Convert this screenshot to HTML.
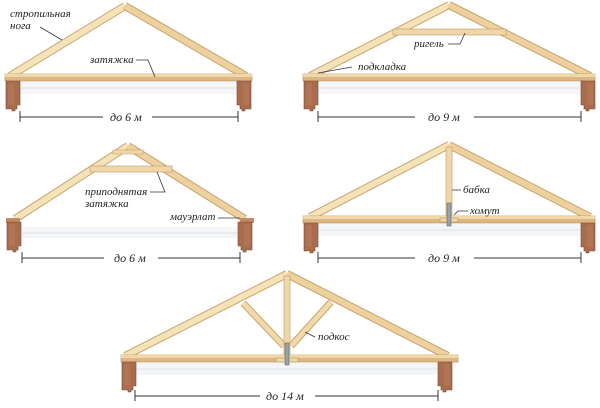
<!DOCTYPE html>
<html><head><meta charset="utf-8"><style>
html,body{margin:0;padding:0;background:#fff}
svg{display:block}
text{font-family:"Liberation Serif","DejaVu Serif",serif;font-style:italic;font-size:11px;fill:#222}
.dim{font-size:12px}
</style></head><body>
<svg width="600" height="408" viewBox="0 0 600 408" xmlns="http://www.w3.org/2000/svg">
<defs>
<g id="wallL">
<path d="M0 0 H14 V24 H11 V28 H9 V30 H6 V28 H0 Z" fill="#a96d4e" stroke="#7a4a33" stroke-width="0.6"/>
<rect x="2" y="2" width="6" height="22" fill="#b87b5a" opacity="0.6"/>
</g>
<g id="wallR">
<path d="M14 0 H0 V24 H3 V28 H5 V30 H8 V28 H14 Z" fill="#a96d4e" stroke="#7a4a33" stroke-width="0.6"/>
<rect x="6" y="2" width="6" height="22" fill="#b87b5a" opacity="0.6"/>
</g>
</defs>

<g stroke-linecap="butt">
<!-- ========== Diagram 1 ========== -->
<rect x="20" y="82" width="220" height="12" fill="#f3f5f7"/>
<line x1="20" y1="88" x2="238" y2="88" stroke="#dde3e8"/>
<line x1="10" y1="76" x2="125" y2="6" stroke="#c9a46c" stroke-width="8"/>
<line x1="10" y1="76" x2="125" y2="6" stroke="#f4e2b8" stroke-width="6"/>
<line x1="125" y1="6" x2="246" y2="76" stroke="#c9a46c" stroke-width="8"/>
<line x1="125" y1="6" x2="246" y2="76" stroke="#ecd19f" stroke-width="6"/>
<rect x="5" y="74" width="247" height="7" fill="#dcb683" stroke="#b48a57" stroke-width="0.6"/>
<rect x="5" y="74" width="247" height="3" fill="#efd7a8"/>
<use href="#wallL" x="6" y="81"/>
<use href="#wallR" x="237" y="81"/>
<line x1="20" y1="111" x2="20" y2="122" stroke="#333"/>
<line x1="238" y1="111" x2="238" y2="122" stroke="#333"/>
<line x1="20" y1="117" x2="103" y2="117" stroke="#333"/>
<line x1="152" y1="117" x2="238" y2="117" stroke="#333"/>
<text class="dim" x="110" y="121">до 6 м</text>
<text x="10" y="17">стропильная</text>
<text x="10" y="29">нога</text>
<line x1="40" y1="27" x2="62" y2="40" stroke="#333" stroke-width="0.8"/>
<text x="90" y="63">затяжка</text>
<polyline points="136,60 148,60 155,77" fill="none" stroke="#333" stroke-width="0.8"/>

<!-- ========== Diagram 2 ========== -->
<rect x="318" y="82" width="263" height="12" fill="#f3f5f7"/>
<line x1="318" y1="88" x2="580" y2="88" stroke="#dde3e8"/>
<line x1="310" y1="76" x2="449" y2="5" stroke="#c9a46c" stroke-width="8"/>
<line x1="310" y1="76" x2="449" y2="5" stroke="#f4e2b8" stroke-width="6"/>
<line x1="449" y1="5" x2="590" y2="76" stroke="#c9a46c" stroke-width="8"/>
<line x1="449" y1="5" x2="590" y2="76" stroke="#ecd19f" stroke-width="6"/>
<rect x="393" y="29" width="113" height="6" fill="#efd7a8" stroke="#c29a65" stroke-width="0.6"/>
<rect x="303" y="74" width="292" height="7" fill="#dcb683" stroke="#b48a57" stroke-width="0.6"/>
<rect x="303" y="74" width="292" height="3" fill="#efd7a8"/>
<use href="#wallL" x="304" y="81"/>
<use href="#wallR" x="581" y="81"/>
<line x1="318" y1="111" x2="318" y2="122" stroke="#333"/>
<line x1="581" y1="111" x2="581" y2="122" stroke="#333"/>
<line x1="318" y1="117" x2="415" y2="117" stroke="#333"/>
<line x1="474" y1="117" x2="581" y2="117" stroke="#333"/>
<text class="dim" x="428" y="121">до 9 м</text>
<text x="414" y="47">ригель</text>
<polyline points="448,44 460,44 465,33" fill="none" stroke="#333" stroke-width="0.8"/>
<text x="358" y="70">подкладка</text>
<line x1="352" y1="67" x2="318" y2="73" stroke="#333" stroke-width="0.8"/>

<!-- ========== Diagram 3 ========== -->
<rect x="22" y="227" width="218" height="11" fill="#f3f5f7"/>
<line x1="22" y1="233" x2="238" y2="233" stroke="#dde3e8"/>
<line x1="15" y1="219" x2="128" y2="146" stroke="#c9a46c" stroke-width="8"/>
<line x1="15" y1="219" x2="128" y2="146" stroke="#f4e2b8" stroke-width="6"/>
<line x1="128" y1="146" x2="245" y2="219" stroke="#c9a46c" stroke-width="8"/>
<line x1="128" y1="146" x2="245" y2="219" stroke="#ecd19f" stroke-width="6"/>
<rect x="113" y="150" width="30" height="4" fill="#efd7a8" stroke="#c29a65" stroke-width="0.5"/>
<rect x="90" y="166" width="82" height="6" fill="#efd7a8" stroke="#c29a65" stroke-width="0.6"/>
<rect x="6" y="218" width="14" height="5" fill="#c48c62"/>
<rect x="240" y="218" width="14" height="5" fill="#c48c62"/>
<use href="#wallL" x="7" y="222"/>
<use href="#wallR" x="238" y="222"/>
<line x1="22" y1="252" x2="22" y2="263" stroke="#333"/>
<line x1="240" y1="252" x2="240" y2="263" stroke="#333"/>
<line x1="22" y1="258" x2="104" y2="258" stroke="#333"/>
<line x1="158" y1="258" x2="240" y2="258" stroke="#333"/>
<text class="dim" x="114" y="262">до 6 м</text>
<text x="85" y="195">приподнятая</text>
<text x="85" y="207">затяжка</text>
<polyline points="150,192 165,192 157,172" fill="none" stroke="#333" stroke-width="0.8"/>
<text x="170" y="220">мауэрлат</text>
<line x1="218" y1="218" x2="240" y2="218" stroke="#333" stroke-width="0.8"/>

<!-- ========== Diagram 4 ========== -->
<rect x="318" y="224" width="263" height="12" fill="#f3f5f7"/>
<line x1="318" y1="230" x2="580" y2="230" stroke="#dde3e8"/>
<line x1="310" y1="217" x2="449" y2="145" stroke="#c9a46c" stroke-width="8"/>
<line x1="310" y1="217" x2="449" y2="145" stroke="#f4e2b8" stroke-width="6"/>
<line x1="449" y1="145" x2="590" y2="217" stroke="#c9a46c" stroke-width="8"/>
<line x1="449" y1="145" x2="590" y2="217" stroke="#ecd19f" stroke-width="6"/>
<rect x="446" y="147" width="6" height="70" fill="#efd7a8" stroke="#c29a65" stroke-width="0.6"/>
<rect x="303" y="216" width="292" height="7" fill="#dcb683" stroke="#b48a57" stroke-width="0.6"/>
<rect x="303" y="216" width="292" height="3" fill="#efd7a8"/>
<rect x="440" y="218" width="18" height="4" fill="#efd7a8" stroke="#b48a57" stroke-width="0.5"/>
<rect x="447" y="203" width="4" height="23" fill="#9aa3ab" stroke="#555" stroke-width="0.5"/>
<use href="#wallL" x="304" y="223"/>
<use href="#wallR" x="581" y="223"/>
<line x1="318" y1="252" x2="318" y2="263" stroke="#333"/>
<line x1="581" y1="252" x2="581" y2="263" stroke="#333"/>
<line x1="318" y1="258" x2="415" y2="258" stroke="#333"/>
<line x1="474" y1="258" x2="581" y2="258" stroke="#333"/>
<text class="dim" x="428" y="262">до 9 м</text>
<text x="463" y="193">бабка</text>
<line x1="452" y1="190" x2="461" y2="190" stroke="#333" stroke-width="0.8"/>
<text x="470" y="214">хомут</text>
<polyline points="468,211 458,211 454,215" fill="none" stroke="#333" stroke-width="0.8"/>

<!-- ========== Diagram 5 ========== -->
<rect x="135" y="363" width="304" height="12" fill="#f3f5f7"/>
<line x1="135" y1="369" x2="438" y2="369" stroke="#dde3e8"/>
<line x1="125" y1="356" x2="287" y2="274" stroke="#c9a46c" stroke-width="8"/>
<line x1="125" y1="356" x2="287" y2="274" stroke="#f4e2b8" stroke-width="6"/>
<line x1="287" y1="274" x2="448" y2="356" stroke="#c9a46c" stroke-width="8"/>
<line x1="287" y1="274" x2="448" y2="356" stroke="#ecd19f" stroke-width="6"/>
<line x1="243" y1="303" x2="284" y2="346" stroke="#c9a46c" stroke-width="7"/>
<line x1="243" y1="303" x2="284" y2="346" stroke="#f0d9ab" stroke-width="5"/>
<line x1="331" y1="302" x2="291" y2="346" stroke="#c9a46c" stroke-width="7"/>
<line x1="331" y1="302" x2="291" y2="346" stroke="#f0d9ab" stroke-width="5"/>
<rect x="284" y="276" width="6" height="80" fill="#efd7a8" stroke="#c29a65" stroke-width="0.6"/>
<rect x="121" y="355" width="337" height="7" fill="#dcb683" stroke="#b48a57" stroke-width="0.6"/>
<rect x="121" y="355" width="337" height="3" fill="#efd7a8"/>
<rect x="276" y="358" width="22" height="4" fill="#efd7a8" stroke="#b48a57" stroke-width="0.5"/>
<rect x="285" y="343" width="4" height="22" fill="#9aa3ab" stroke="#555" stroke-width="0.5"/>
<use href="#wallL" x="122" y="362"/>
<use href="#wallR" x="438" y="362"/>
<line x1="135" y1="390" x2="135" y2="401" stroke="#333"/>
<line x1="438" y1="390" x2="438" y2="401" stroke="#333"/>
<line x1="135" y1="396" x2="260" y2="396" stroke="#333"/>
<line x1="315" y1="396" x2="438" y2="396" stroke="#333"/>
<text class="dim" x="266" y="400">до 14 м</text>
<text x="318" y="340">подкос</text>
<line x1="315" y1="337" x2="305" y2="332" stroke="#333" stroke-width="0.8"/>
</g>
</svg>
</body></html>
